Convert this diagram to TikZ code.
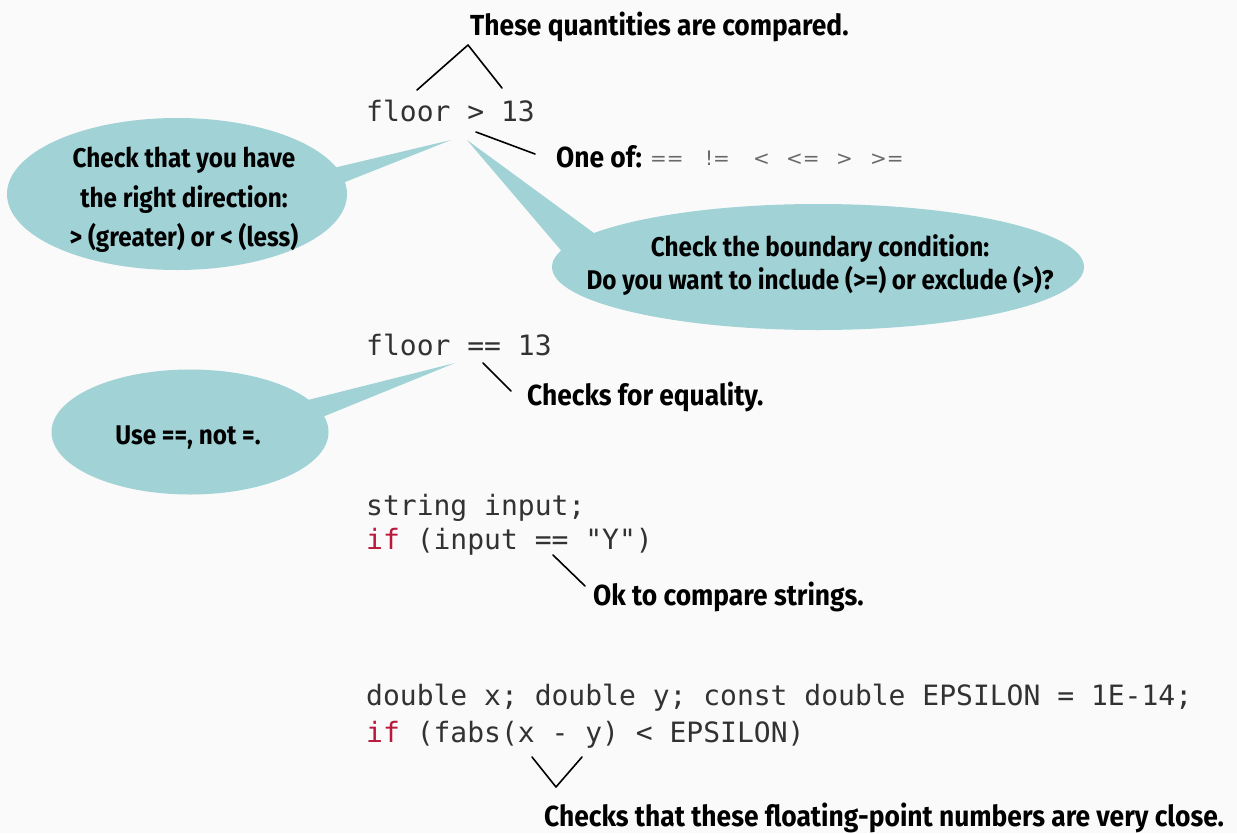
\documentclass[tikz,border=0pt]{standalone}
\usepackage{fontspec}
\setmainfont{Fira Sans}
\newfontfamily\handfont{Fira Sans}[FakeStretch=0.91]
\newfontfamily\bubblefont{Fira Sans}[FakeStretch=0.9]
\newfontfamily\codefont{DejaVu Sans Mono}[Ligatures=NoCommon]
\newfontfamily\opsfont{DejaVu Sans}
\usetikzlibrary{shapes.geometric,backgrounds}

\definecolor{bubblefill}{RGB}{160,210,214}
\definecolor{codegray}{RGB}{50,50,50}
\definecolor{kwred}{RGB}{185,25,60}
\definecolor{paper}{RGB}{250,250,250}
\definecolor{opsgray}{RGB}{105,105,105}

\tikzset{
  bubble/.style={ellipse, fill=bubblefill, draw=none, inner sep=0pt},
  tailfill/.style={fill=bubblefill, draw=none},
  handtext/.style={font=\handfont\bfseries\fontsize{29}{36}\selectfont, anchor=base west, inner sep=0pt},
  bubbletext/.style={font=\bubblefont\bfseries\fontsize{27}{39.5}\selectfont, align=center, inner sep=0pt},
  codetext/.style={font=\codefont\fontsize{28}{36}\selectfont, text=codegray, anchor=base west, inner sep=0pt},
  opstext/.style={font=\opsfont\fontsize{20}{24}\selectfont, text=opsgray, anchor=base west, inner sep=0pt},
  pointerline/.style={line width=1.6pt, line cap=round, line join=round},
}

\begin{document}
\begin{tikzpicture}[x=1pt, y=-1pt]
  \useasboundingbox (0,0) rectangle (1237,833);
  \begin{pgfonlayer}{background}
    \fill[paper] (0,0) rectangle (1237,833);
  \end{pgfonlayer}

  % speech bubbles
  \node[bubble, minimum width=340pt, minimum height=152pt] (b1) at (177,194) {};
  \node[bubble, minimum width=532pt, minimum height=126pt] (b2) at (818,267) {};
  \node[bubble, minimum width=277pt, minimum height=125pt] (b3) at (190,432) {};

  % code fragments
  \node[codetext] (c1) at (366,121) {floor > 13};
  \node[codetext] (c2) at (366,355) {floor == 13};
  \node[codetext] (c3) at (366,515) {string input;};
  \node[codetext] (c4) at (366,549) {\textcolor{kwred}{if} (input == "Y")};
  \node[codetext] (c5) at (366,705) {double x; double y; const double EPSILON = 1E-14;};
  \node[codetext] (c6) at (366,742) {\textcolor{kwred}{if} (fabs(x - y) < EPSILON)};

  % bubble tails
  \coordinate (t1) at (451,140);
  \coordinate (t2) at (467,140);
  \coordinate (t3) at (455,363);
  \coordinate (t1u) at (325,170);
  \coordinate (t1d) at (335,186);
  \coordinate (t2u) at (598,236);
  \coordinate (t2d) at (565,255);
  \coordinate (t3u) at (300,402);
  \coordinate (t3d) at (310,422);
  \begin{pgfonlayer}{background}
    \fill[tailfill] (t1) -- (t1u) -- (t1d) -- cycle;
    \fill[tailfill] (t2) -- (t2u) -- (t2d) -- cycle;
    \fill[tailfill] (t3) -- (t3u) -- (t3d) -- cycle;
  \end{pgfonlayer}

  % bubble texts
  \node[bubbletext] (n1) at (184,200) {Check that you have\\the right direction:\\> (greater) or < (less)};
  \node[bubbletext, font=\bubblefont\bfseries\fontsize{27}{33}\selectfont] (n2) at (820,265) {Check the boundary condition:\\Do you want to include (>=) or exclude (>)?};
  \node[bubbletext] (n3) at (188,438) {Use ==, not =.};

  % annotations
  \node[handtext] (a1) at (470,35) {These quantities are compared.};
  \node[handtext] (a2) at (556,167) {One of:};
  \node[opstext] (ops) at (650,165) {\makebox[55pt][l]{==}\makebox[48pt][l]{!=}\makebox[33pt][l]{<}\makebox[50pt][l]{<=}\makebox[34pt][l]{>}>=};
  \node[handtext] (a3) at (527,405) {Checks for equality.};
  \node[handtext] (a4) at (593,605) {Ok to compare strings.};
  \node[handtext] (a5) at (544,826) {Checks that these floating-point numbers are very close.};

  % pointer lines
  \coordinate (p1l) at (417,90);
  \coordinate (p1t) at (468,45);
  \coordinate (p1r) at (502,88);
  \draw[pointerline] (p1l) -- (p1t) -- (p1r);

  \coordinate (p2a) at (476,132);
  \coordinate (p2b) at (535,154);
  \draw[pointerline] (p2a) -- (p2b);

  \coordinate (p3a) at (483,363);
  \coordinate (p3b) at (511,391);
  \draw[pointerline] (p3a) -- (p3b);

  \coordinate (p4a) at (553,555);
  \coordinate (p4b) at (585,586);
  \draw[pointerline] (p4a) -- (p4b);

  \coordinate (p5l) at (532,757);
  \coordinate (p5b) at (556,787);
  \coordinate (p5r) at (582,757);
  \draw[pointerline] (p5l) -- (p5b) -- (p5r);
\end{tikzpicture}
\end{document}
